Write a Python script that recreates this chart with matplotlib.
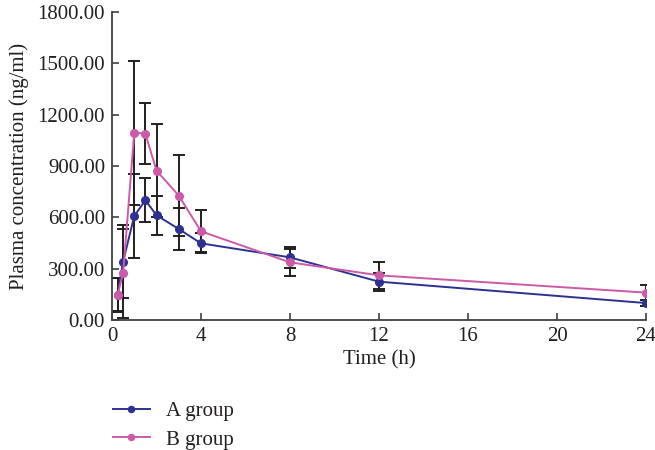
import matplotlib
matplotlib.use("Agg")
import matplotlib.pyplot as plt

time_h = [0.25, 0.5, 1, 1.5, 2, 3, 4, 8, 12, 24]
a_mean = [145, 341, 608, 700, 612, 532, 448, 366, 224, 99]
a_sd = [100, 215, 245, 130, 114, 120, 58, 60, 53, 17]
b_mean = [148, 273, 1095, 1089, 873, 727, 518, 337, 261, 160]
b_sd = [96, 260, 420, 180, 270, 235, 123, 80, 80, 43]
series_labels = ["A group", "B group"]
y_ticks = [0, 300, 600, 900, 1200, 1500, 1800]
x_ticks = [0, 4, 8, 12, 16, 20, 24]

plt.rcParams['font.family'] = ['Liberation Serif', 'DejaVu Serif']

fig = plt.figure(figsize=(6.55, 4.5), dpi=100)
ax = fig.add_axes([112/655, 130/450, 534/655, 308/450])

blue = '#2e3192'
pink = '#cc5aa8'
ecol = '#231f20'

ax.errorbar(time_h, a_mean, yerr=a_sd, fmt='none', ecolor=ecol, elinewidth=1.4,
            capsize=4.5, capthick=1.4, zorder=2)
ax.errorbar(time_h, b_mean, yerr=b_sd, fmt='none', ecolor=ecol, elinewidth=1.4,
            capsize=4.5, capthick=1.4, zorder=2)
ax.plot(time_h, a_mean, '-o', color=blue, lw=1.4, ms=5.5, label=series_labels[0], zorder=3)
ax.plot(time_h, b_mean, '-o', color=pink, lw=1.4, ms=5.5, label=series_labels[1], zorder=3)

ax.set_xlim(0, 24)
ax.set_ylim(0, 1800)
ax.set_xticks(x_ticks)
ax.set_yticks(y_ticks)
ax.set_yticklabels([f"{v:.2f}" for v in y_ticks])
for s in ['top', 'right']:
    ax.spines[s].set_visible(False)
for s in ['left', 'bottom']:
    ax.spines[s].set_color('#404040')
    ax.spines[s].set_linewidth(1.3)
ax.tick_params(direction='in', length=5, width=1.2, color='#404040',
               labelsize=15, labelcolor='#231f20', pad=5)
ax.set_xlabel('Time (h)', fontsize=15, color='#231f20', labelpad=3)
ax.set_ylabel('Plasma concentration (ng/ml)', fontsize=15, color='#231f20', labelpad=6)

fig.legend(loc='upper left', bbox_to_anchor=(98/655, 1 - 387/450), frameon=False,
           fontsize=15, handlelength=1.8, handletextpad=0.75, labelspacing=0.42,
           markerscale=0.8, labelcolor='#231f20', borderaxespad=0.3)

fig.savefig('out.png', dpi=100)
